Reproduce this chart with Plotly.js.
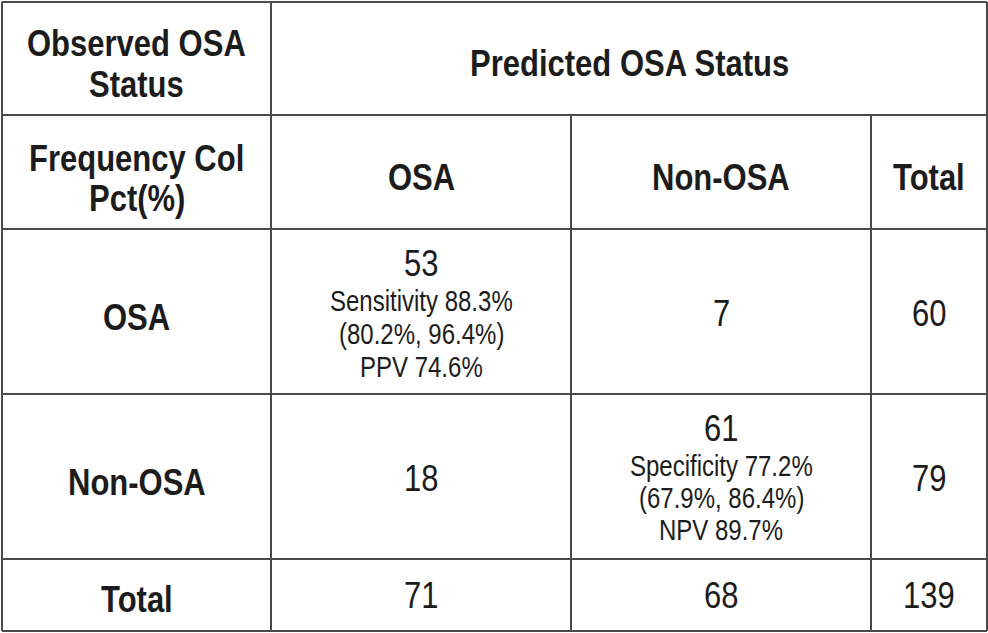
<!DOCTYPE html>
<html>
<head>
<meta charset="utf-8">
<script src="https://cdn.plot.ly/plotly-3.0.1.min.js"></script>
<style>
  html, body { margin: 0; padding: 0; background: #ffffff; }
  #chart { width: 988px; height: 633px; }
</style>
</head>
<body>
<div id="chart"></div>
<script>
// table content
var cornerTop = ["Observed OSA", "Status"];
var spanTitle = "Predicted OSA Status";
var cornerSub = ["Frequency Col", "Pct(%)"];
var colLabels = ["OSA", "Non-OSA", "Total"];
var rowLabels = ["OSA", "Non-OSA", "Total"];
var counts = [
    [53, 7, 60],
    [18, 61, 79],
    [71, 68, 139]
];
var osaNotes = ["Sensitivity 88.3%", "(80.2%, 96.4%)", "PPV 74.6%"];
var nonOsaNotes = ["Specificity 77.2%", "(67.9%, 86.4%)", "NPV 89.7%"];

// grid geometry (in the plot's own pixel-like units)
var xEdges = [2, 271, 571, 871, 987];
var yEdges = [2, 115, 229, 394, 559, 631];
var lineColor = "#4a4a4a";
var textColor = "#1c1c1c";
var fam = "Liberation Sans, Arial, Helvetica, sans-serif";

function colMid(i) { return (xEdges[i] + xEdges[i + 1]) / 2; }

var shapes = [];
function hline(y, x0, x1) {
    shapes.push({type: "line", xref: "x", yref: "y", x0: x0, x1: x1, y0: y, y1: y,
        line: {color: lineColor, width: 2}});
}
function vline(x, y0, y1) {
    shapes.push({type: "line", xref: "x", yref: "y", x0: x, x1: x, y0: y0, y1: y1,
        line: {color: lineColor, width: 2}});
}
yEdges.forEach(function (y) { hline(y, xEdges[0], xEdges[4]); });
vline(xEdges[0], yEdges[0], yEdges[5]);
vline(xEdges[1], yEdges[0], yEdges[5]);
vline(xEdges[2], yEdges[1], yEdges[5]);
vline(xEdges[3], yEdges[1], yEdges[5]);
vline(xEdges[4], yEdges[0], yEdges[5]);

var annotations = [];
function addText(x, y, text, size, bold) {
    annotations.push({
        x: x, y: y, xref: "x", yref: "y", text: text, showarrow: false,
        xanchor: "center", yanchor: "middle",
        font: {family: fam, size: size, color: textColor, weight: bold ? "bold" : "normal"}
    });
}

var hSize = 31;   // bold headers
var nSize = 31;   // counts
var sSize = 24;   // small notes

// header rows
addText(colMid(0), 43, cornerTop[0], hSize, true);
addText(colMid(0), 84, cornerTop[1], hSize, true);
addText((xEdges[1] + xEdges[4]) / 2, 63, spanTitle, hSize, true);
addText(colMid(0), 158, cornerSub[0], hSize, true);
addText(colMid(0), 198, cornerSub[1], hSize, true);
colLabels.forEach(function (lab, j) { addText(colMid(j + 1), 177, lab, hSize, true); });

// body rows
var rowY = [317, 482, 599];
rowLabels.forEach(function (lab, i) { addText(colMid(0), rowY[i], lab, hSize, true); });

counts.forEach(function (row, i) {
    row.forEach(function (v, j) {
        if (i === 0 && j === 0) {
            addText(colMid(1), 263, String(v), nSize, false);
            osaNotes.forEach(function (t, k) { addText(colMid(1), 300 + k * 33, t, sSize, false); });
        } else if (i === 1 && j === 1) {
            addText(colMid(2), 428, String(v), nSize, false);
            nonOsaNotes.forEach(function (t, k) { addText(colMid(2), 465 + k * 32, t, sSize, false); });
        } else {
            addText(colMid(j + 1), rowY[i] - 4, String(v), nSize, false);
        }
    });
});

var layout = {
    width: 988,
    height: 633,
    margin: {l: 0, r: 0, t: 0, b: 0},
    paper_bgcolor: "#ffffff",
    plot_bgcolor: "#ffffff",
    showlegend: false,
    xaxis: {range: [0, 988], visible: false, fixedrange: true},
    yaxis: {range: [633, 0], visible: false, fixedrange: true},
    shapes: shapes,
    annotations: annotations
};

Plotly.newPlot("chart", [{x: [], y: [], type: "scatter", hoverinfo: "skip"}], layout,
    {displayModeBar: false, staticPlot: true}).then(function (gd) {
    // the original uses a condensed face: stretch the glyphs upward instead
    gd.querySelectorAll(".annotation-text").forEach(function (t) {
        var b = t.getBBox();
        var cy = b.y + b.height / 2;
        t.setAttribute("transform",
            "translate(0," + cy + ") scale(1,1.2) translate(0," + (-cy) + ")");
    });
});
</script>
</body>
</html>
